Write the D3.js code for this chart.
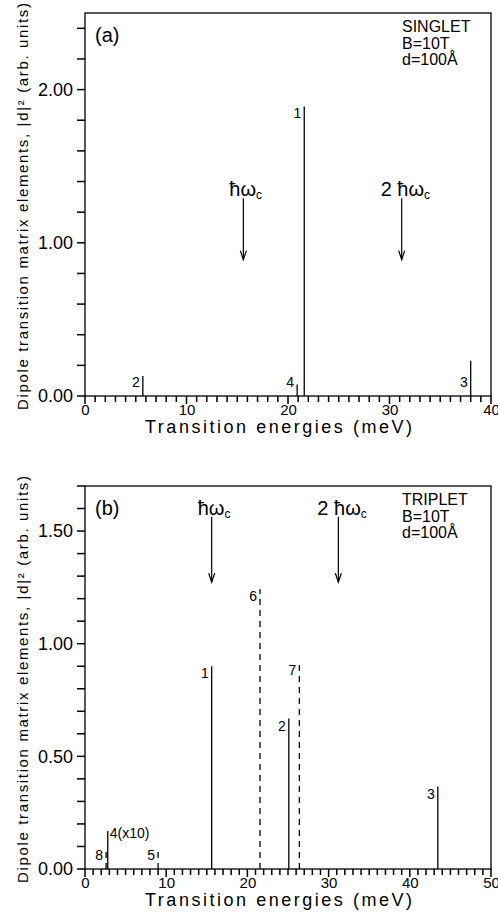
<!DOCTYPE html>
<html>
<head>
<meta charset="utf-8">
<script src="https://cdn.jsdelivr.net/npm/d3@7"></script>
<style>
  body { margin: 0; background: #fff; }
  text { font-family: "Liberation Sans", Arial, sans-serif; fill: #000; }
</style>
</head>
<body>
<div id="chart"></div>
<script>
// (a) singlet transitions
var singletLabels = ["1", "2", "3", "4"];
var singletEnergy = [21.6, 5.7, 38.0, 20.9];
var singletDipole = [1.89, 0.13, 0.23, 0.075];
var singletDashed = [false, false, false, false];

// (b) triplet transitions
var tripletLabels = ["1", "2", "3", "4(x10)", "5", "6", "7", "8"];
var tripletEnergy = [15.6, 25.1, 43.45, 2.8, 9.0, 21.55, 26.4, 2.6];
var tripletDipole = [0.90, 0.668, 0.366, 0.169, 0.077, 1.242, 0.915, 0.081];
var tripletDashed = [false, false, false, false, true, true, true, true];

// cyclotron energies (meV)
var hwcEnergy = [15.6, 31.2];
var hwcText = ["", "2 "];

var singletInfo = ["SINGLET", "B=10T", "d=100Å"];
var tripletInfo = ["TRIPLET", "B=10T", "d=100Å"];

var svgWidth = 498, svgHeight = 914;
var left = 85, right = 491;

var svg = d3.select("#chart").append("svg")
    .attr("width", svgWidth)
    .attr("height", svgHeight);

function drawPanel(p) {
    var x = d3.scaleLinear().domain([0, p.xMax]).range([left, right]);
    var y = d3.scaleLinear().domain([0, p.yMax]).range([p.bottom, p.top]);
    var g = svg.append("g");

    // frame
    g.append("rect")
        .attr("x", left).attr("y", p.top)
        .attr("width", right - left).attr("height", p.bottom - p.top)
        .attr("fill", "none").attr("stroke", "#000").attr("stroke-width", 1.3);

    // tick marks from the scales (outward)
    var xTicks = d3.range(0, p.xMax + 0.5, 1);
    g.selectAll(".xtick").data(xTicks).enter().append("line")
        .attr("class", "xtick")
        .attr("x1", d => x(d)).attr("x2", d => x(d))
        .attr("y1", p.bottom).attr("y2", d => p.bottom + (d % 10 === 0 ? 8 : 6))
        .attr("stroke", "#000").attr("stroke-width", 1.5);
    var yTicks = d3.range(0, p.yMax + 1e-6, p.yStep);
    g.selectAll(".ytick").data(yTicks).enter().append("line")
        .attr("class", "ytick")
        .attr("x1", left - 8).attr("x2", left)
        .attr("y1", d => y(d)).attr("y2", d => y(d))
        .attr("stroke", "#000").attr("stroke-width", 1.5);

    // tick labels through d3 axes
    var xAxis = g.append("g")
        .attr("transform", `translate(0,${p.bottom})`)
        .call(d3.axisBottom(x).tickValues(d3.range(0, p.xMax + 0.5, 10)).tickSize(0).tickFormat(d3.format("d")));
    xAxis.selectAll("text").attr("y", 19).attr("dy", 0).style("font-size", "15px");
    var yAxis = g.append("g")
        .attr("transform", `translate(${left},0)`)
        .call(d3.axisLeft(y).tickValues(p.yLabels).tickSize(0).tickPadding(12).tickFormat(d3.format(".2f")));
    yAxis.selectAll("text").style("font-size", "18px");
    xAxis.select(".domain").remove();
    yAxis.select(".domain").remove();

    // transition lines
    var idx = d3.range(p.labels.length);
    g.selectAll(".peak").data(idx).enter().append("line")
        .attr("class", "peak")
        .attr("x1", i => x(p.energy[i])).attr("x2", i => x(p.energy[i]))
        .attr("y1", y(0)).attr("y2", i => y(p.dipole[i]))
        .attr("stroke", "#000").attr("stroke-width", 1.3)
        .attr("stroke-dasharray", i => p.dashed[i] ? "6,5" : null);

    g.selectAll(".plabel").data(idx).enter().append("text")
        .attr("class", "plabel")
        .attr("x", function (i) {
            return p.labels[i].length > 1 ? x(p.energy[i]) + 2 : x(p.energy[i]) - 3;
        })
        .attr("y", function (i) {
            if (p.labels[i].length > 1) return y(p.dipole[i]) + 7;
            return p.dipole[i] < 0.3 ? y(0) - 9 : y(p.dipole[i]) + 12;
        })
        .attr("text-anchor", i => p.labels[i].length > 1 ? "start" : "end")
        .style("font-size", "14px")
        .text(i => p.labels[i]);

    // cyclotron arrows
    hwcEnergy.forEach(function (e, k) {
        var ax = x(e), y0 = y(p.arrowFrom), y1 = y(p.arrowTo);
        g.append("line").attr("x1", ax).attr("x2", ax).attr("y1", y0).attr("y2", y1)
            .attr("stroke", "#000").attr("stroke-width", 1.2);
        g.append("path")
            .attr("d", `M${ax - 3},${y1 - 9}L${ax},${y1}L${ax + 3},${y1 - 9}`)
            .attr("fill", "none").attr("stroke", "#000").attr("stroke-width", 1.2);
        var t = g.append("text")
            .attr("x", ax - (k === 0 ? 14 : 21))
            .attr("y", y0 - 2)
            .style("font-size", "20px");
        t.append("tspan").text(hwcText[k] + "ħω");
        t.append("tspan").attr("dy", 3).style("font-size", "12px").text("c");
    });

    // panel tag and info
    g.append("text").attr("x", 95).attr("y", p.top + 29)
        .style("font-size", "20px").text(p.tag);
    g.selectAll(".info").data(p.info).enter().append("text")
        .attr("class", "info")
        .attr("x", 402).attr("y", (d, i) => p.top + 19 + i * 16.5)
        .style("font-size", "16px").text(d => d);

    // axis titles
    g.append("text")
        .attr("transform", `translate(28,${(p.top + p.bottom) / 2 + 2}) rotate(-90)`)
        .attr("text-anchor", "middle")
        .attr("textLength", 407).attr("lengthAdjust", "spacing")
        .style("font-size", "15px")
        .text("Dipole transition matrix elements, |d|² (arb. units)");
    g.append("text")
        .attr("x", 145).attr("y", p.bottom + 37)
        .attr("textLength", 267).attr("lengthAdjust", "spacing")
        .style("font-size", "18px")
        .text("Transition energies (meV)");
}

drawPanel({
    top: 13, bottom: 396, xMax: 40, yMax: 2.5, yStep: 0.2, yLabels: [0, 1, 2],
    labels: singletLabels, energy: singletEnergy, dipole: singletDipole, dashed: singletDashed,
    arrowFrom: 1.29, arrowTo: 0.89, tag: "(a)", info: singletInfo
});

drawPanel({
    top: 486, bottom: 869, xMax: 50, yMax: 1.7, yStep: 0.1, yLabels: [0, 0.5, 1, 1.5],
    labels: tripletLabels, energy: tripletEnergy, dipole: tripletDipole, dashed: tripletDashed,
    arrowFrom: 1.563, arrowTo: 1.273, tag: "(b)", info: tripletInfo
});
</script>
</body>
</html>
